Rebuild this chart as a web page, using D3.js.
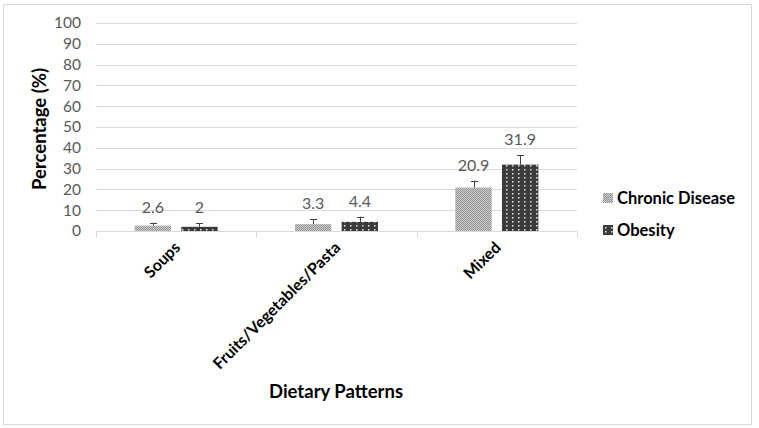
<!DOCTYPE html>
<html>
<head>
<meta charset="utf-8">
<script src="https://cdn.jsdelivr.net/npm/d3@7"></script>
<style>
  body { margin: 0; background: #fff; }
  svg text { font-family: Lato, "Open Sans", sans-serif; }
</style>
</head>
<body>
<div id="chart"></div>
<script>
// chart data
var categories = ["Soups", "Fruits/Vegetables/Pasta", "Mixed"];
var seriesNames = ["Chronic Disease", "Obesity"];
var chronicValues = [2.6, 3.3, 20.9];
var obesityValues = [2, 4.4, 31.9];
var chronicErrors = [1.4, 2.3, 3.3];
var obesityErrors = [1.7, 2.5, 4.5];
var yTicks = [0, 10, 20, 30, 40, 50, 60, 70, 80, 90, 100];

var width = 759, height = 428;
var margin = {top: 23, left: 96, right: 182, bottom: 197};

var svg = d3.select("#chart").append("svg")
    .attr("width", width)
    .attr("height", height);

// patterns for the two series
var defs = svg.append("defs");
var p1 = defs.append("pattern")
    .attr("id", "patChronic")
    .attr("patternUnits", "userSpaceOnUse")
    .attr("width", 2).attr("height", 2);
p1.append("rect").attr("width", 2).attr("height", 2).attr("fill", "#d2d2d2");
p1.append("rect").attr("width", 1).attr("height", 1).attr("fill", "#8f8f8f");
p1.append("rect").attr("x", 1).attr("y", 1).attr("width", 1).attr("height", 1).attr("fill", "#8f8f8f");

var p2 = defs.append("pattern")
    .attr("id", "patObesity")
    .attr("patternUnits", "userSpaceOnUse")
    .attr("width", 6).attr("height", 4);
p2.append("rect").attr("width", 6).attr("height", 4).attr("fill", "#3b3b3b");
p2.append("rect").attr("x", 2).attr("y", 1).attr("width", 1.5).attr("height", 1.5).attr("fill", "#e6e6e6");

// frame
svg.append("rect")
    .attr("x", 3.5).attr("y", 4.5)
    .attr("width", 748).attr("height", 420)
    .attr("fill", "#fff")
    .attr("stroke", "#d9d9d9");

var x0 = d3.scaleBand()
    .domain(categories)
    .range([margin.left, width - margin.right]);

var x1 = d3.scaleBand()
    .domain(seriesNames)
    .range([0, 83])
    .paddingInner(0.22);

var y = d3.scaleLinear()
    .domain([0, 100])
    .range([height - margin.bottom, margin.top]);

// gridlines
svg.append("g")
    .selectAll("line")
    .data(yTicks.slice(1))
    .enter()
    .append("line")
    .attr("x1", margin.left)
    .attr("x2", width - margin.right)
    .attr("y1", function(d) { return Math.round(y(d)) + 0.5; })
    .attr("y2", function(d) { return Math.round(y(d)) + 0.5; })
    .attr("stroke", "#d9d9d9");

// y axis labels
var yAxis = svg.append("g")
    .attr("transform", "translate(" + margin.left + ",0)")
    .call(d3.axisLeft(y).tickValues(yTicks).tickSize(0).tickPadding(15));
yAxis.select(".domain").remove();
yAxis.selectAll("text")
    .attr("fill", "#595959")
    .style("font-size", "15.5px")
    .style("font-family", "Lato, sans-serif");

// x axis with category boundary ticks
var baseY = Math.round(y(0)) + 0.5;
svg.append("line")
    .attr("x1", margin.left).attr("x2", width - margin.right)
    .attr("y1", baseY).attr("y2", baseY)
    .attr("stroke", "#d9d9d9");
var bounds = categories.map(function(c) { return x0(c); }).concat([x0.range()[1]]);
svg.append("g").selectAll("line")
    .data(bounds)
    .enter()
    .append("line")
    .attr("x1", function(d) { return Math.round(d) + 0.5; })
    .attr("x2", function(d) { return Math.round(d) + 0.5; })
    .attr("y1", baseY).attr("y2", baseY + 6)
    .attr("stroke", "#d9d9d9");

// bars
var rows = categories.map(function(c, i) {
  return [
    {cat: c, s: seriesNames[0], v: chronicValues[i], e: chronicErrors[i], fill: "url(#patChronic)"},
    {cat: c, s: seriesNames[1], v: obesityValues[i], e: obesityErrors[i], fill: "url(#patObesity)"}
  ];
});
var flat = [].concat.apply([], rows);
var groupOffset = (x0.bandwidth() - 83) / 2;

function barX(d) { return x0(d.cat) + groupOffset + x1(d.s); }

svg.append("g").selectAll("rect")
    .data(flat)
    .enter()
    .append("rect")
    .attr("x", barX)
    .attr("y", function(d) { return y(d.v); })
    .attr("width", x1.bandwidth())
    .attr("height", function(d) { return y(0) - y(d.v); })
    .attr("fill", function(d) { return d.fill; });

// error bars (upper only)
var err = svg.append("g").attr("stroke", "#404040").attr("stroke-width", 1);
flat.forEach(function(d) {
  var cx = Math.round(barX(d) + x1.bandwidth() / 2) + 0.5;
  err.append("line")
      .attr("x1", cx).attr("x2", cx)
      .attr("y1", y(d.v)).attr("y2", y(d.v + d.e));
  err.append("line")
      .attr("x1", cx - 3.5).attr("x2", cx + 3.5)
      .attr("y1", Math.round(y(d.v + d.e)) + 0.5).attr("y2", Math.round(y(d.v + d.e)) + 0.5);
});

// value labels
svg.append("g").selectAll("text")
    .data(flat)
    .enter()
    .append("text")
    .attr("x", function(d) { return barX(d) + x1.bandwidth() / 2; })
    .attr("y", function(d) { return y(d.v + d.e) - 10; })
    .attr("text-anchor", "middle")
    .attr("fill", "#595959")
    .style("font-size", "16px")
    .text(function(d) { return d.v; });

// category labels rotated
svg.append("g").selectAll("text")
    .data(categories)
    .enter()
    .append("text")
    .attr("transform", function(d) {
      return "translate(" + (x0(d) + x0.bandwidth() / 2 + 5) + "," + (baseY + 17) + ") rotate(-45)";
    })
    .attr("text-anchor", "end")
    .attr("fill", "#000")
    .style("font-size", "16px")
    .style("font-weight", "bold")
    .text(function(d) { return d; });

// axis titles
svg.append("text")
    .attr("transform", "translate(46," + (y(50) + 2) + ") rotate(-90)")
    .attr("text-anchor", "middle")
    .style("font-size", "18.5px")
    .style("font-weight", "bold")
    .text("Percentage (%)");

svg.append("text")
    .attr("x", 336)
    .attr("y", 398)
    .attr("text-anchor", "middle")
    .style("font-size", "18.5px")
    .style("font-weight", "bold")
    .text("Dietary Patterns");

// legend
var legend = svg.append("g").selectAll("g")
    .data(seriesNames)
    .enter()
    .append("g")
    .attr("transform", function(d, i) { return "translate(603," + (198 + i * 32) + ")"; });
legend.append("rect")
    .attr("x", 0).attr("y", -5)
    .attr("width", 10).attr("height", 10)
    .attr("fill", function(d, i) { return i === 0 ? "url(#patChronic)" : "url(#patObesity)"; });
legend.append("text")
    .attr("x", 14)
    .attr("y", 6)
    .style("font-size", "16.5px")
    .style("font-weight", "bold")
    .text(function(d) { return d; });
</script>
</body>
</html>
